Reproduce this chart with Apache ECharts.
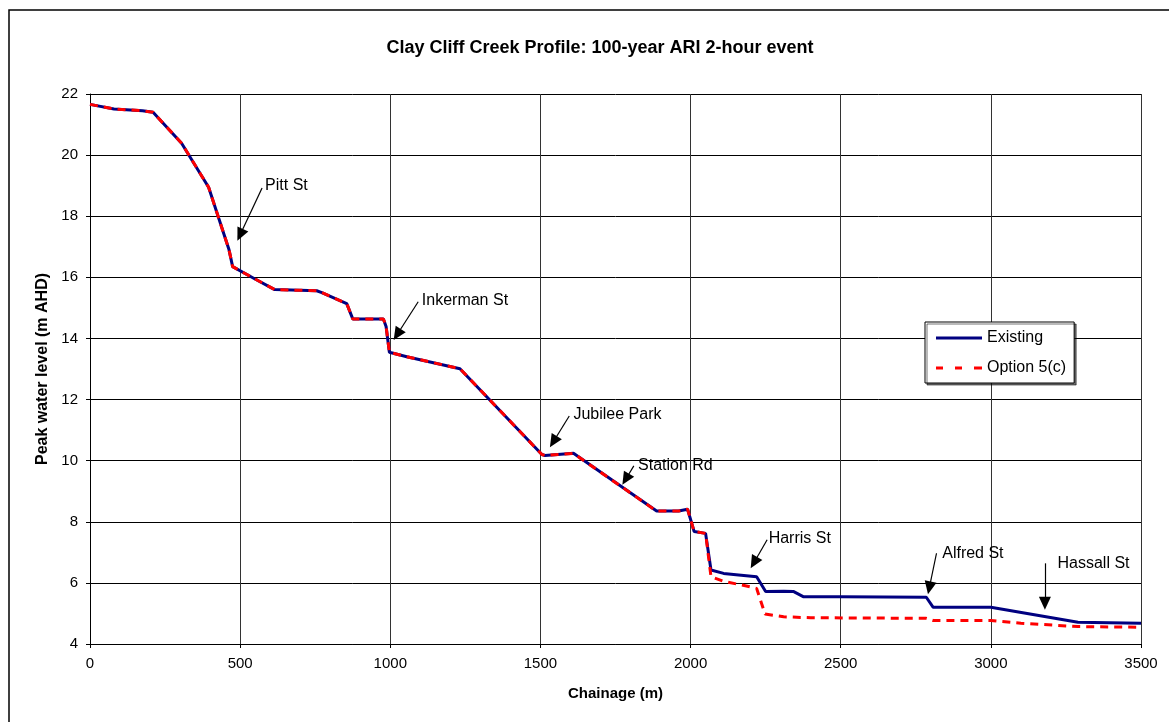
<!DOCTYPE html>
<html>
<head>
<meta charset="utf-8">
<script src="https://cdn.jsdelivr.net/npm/echarts@6/dist/echarts.min.js"></script>
<style>
  html, body { margin: 0; padding: 0; background: #fff; }
  #chart { width: 1169px; height: 722px; }
</style>
</head>
<body>
<div id="chart"></div>
<script>
// 现状方案 (Existing)
var existingChainage = [0, 80, 175, 210, 305, 395, 463, 475, 545, 615, 755, 772, 855, 875, 977, 986, 997, 1055, 1232, 1505, 1515, 1610, 1887, 1960, 1990, 2012, 2050, 2068, 2110, 2160, 2220, 2250, 2310, 2342, 2375, 2500, 2785, 2808, 3000, 3290, 3500];
var existingLevel = [21.66, 21.51, 21.45, 21.40, 20.39, 18.95, 16.9, 16.35, 15.97, 15.6, 15.56, 15.5, 15.14, 14.64, 14.64, 14.39, 13.55, 13.4, 13.01, 10.2, 10.17, 10.24, 8.35, 8.35, 8.41, 7.68, 7.62, 6.42, 6.31, 6.26, 6.2, 5.72, 5.73, 5.72, 5.55, 5.55, 5.53, 5.2, 5.2, 4.71, 4.68];

// Option 5(c)
var optionChainage = [0, 80, 175, 210, 305, 395, 463, 475, 545, 615, 755, 772, 855, 875, 977, 986, 997, 1055, 1232, 1505, 1515, 1610, 1887, 1960, 1990, 2012, 2050, 2068, 2110, 2175, 2220, 2248, 2310, 2400, 2785, 2808, 3000, 3100, 3290, 3500];
var optionLevel = [21.66, 21.51, 21.45, 21.40, 20.39, 18.95, 16.9, 16.35, 15.97, 15.6, 15.56, 15.5, 15.14, 14.64, 14.64, 14.39, 13.55, 13.4, 13.01, 10.2, 10.17, 10.24, 8.35, 8.35, 8.41, 7.68, 7.62, 6.2, 6.05, 5.92, 5.82, 4.98, 4.89, 4.86, 4.84, 4.77, 4.77, 4.68, 4.57, 4.55];

// 标注: 名称, 箭头起点/终点(chainage, level), 文字位置
var labelNames = ["Pitt St", "Inkerman St", "Jubilee Park", "Station Rd", "Harris St", "Alfred St", "Hassall St"];
var labelFrom = [[573, 18.92], [1093, 15.2], [1596, 11.46], [1811, 9.83], [2255, 7.41], [2819, 6.97], [3180, 6.64]];
var labelTo = [[500, 17.39], [1023, 14.13], [1543, 10.62], [1784, 9.39], [2211, 6.66], [2795, 5.84], [3180, 5.33]];
var textAt = [[583, 19.0], [1105, 15.25], [1610, 11.5], [1825, 9.85], [2260, 7.45], [2838, 6.95], [3222, 6.62]];

function pairs(xs, ys) {
  return xs.map(function (x, i) { return [x, ys[i]]; });
}

var chart = echarts.init(document.getElementById("chart"));
var font = "Liberation Sans, Arial, sans-serif";

chart.setOption({
  animation: false,
  backgroundColor: "#fff",
  textStyle: { fontFamily: font, color: "#000" },
  graphic: [{
    type: "rect",
    shape: { x: 9, y: 10, width: 1300, height: 900 },
    style: { fill: "none", stroke: "#000", lineWidth: 1.5 },
    silent: true
  }],
  title: {
    text: "Clay Cliff Creek Profile: 100-year ARI 2-hour event",
    left: 595,
    top: 34,
    textAlign: "center",
    textStyle: { fontFamily: font, fontSize: 18, fontWeight: "bold", color: "#000" }
  },
  grid: { left: 90, top: 94, right: 28, bottom: 78 },
  legend: {
    orient: "vertical",
    left: 925,
    top: 322,
    itemWidth: 46,
    itemHeight: 3,
    itemGap: 14,
    symbolKeepAspect: false,
    padding: [8, 8, 7, 11],
    backgroundColor: "#fff",
    borderColor: "#000",
    borderWidth: 1,
    borderRadius: 0,
    shadowColor: "rgba(0,0,0,0.55)",
    shadowOffsetX: 2,
    shadowOffsetY: 2,
    shadowBlur: 0,
    itemStyle: { borderWidth: 0 },
    lineStyle: { width: 0 },
    textStyle: { fontFamily: font, fontSize: 16, color: "#000" },
    data: [
      { name: "Existing", icon: "path://M0,0H46V3H0Z" },
      { name: "Option 5(c)", icon: "path://M0,0H7V3H0Z M19,0H26V3H19Z M38,0H46V3H38Z" }
    ]
  },
  xAxis: {
    type: "value",
    min: 0,
    max: 3500,
    interval: 500,
    name: "Chainage (m)",
    nameLocation: "middle",
    nameGap: 42,
    nameTextStyle: { fontFamily: font, fontSize: 15, fontWeight: "bold", color: "#000" },
    axisLine: { show: true, lineStyle: { color: "#000", width: 1 } },
    axisTick: { show: true, length: 4, lineStyle: { color: "#000" } },
    axisLabel: {
      fontFamily: font, fontSize: 15, color: "#000", margin: 12,
      formatter: function (v) { return String(v); }
    },
    splitLine: { show: true, lineStyle: { color: "#333", width: 1 } }
  },
  yAxis: {
    type: "value",
    min: 4,
    max: 22,
    interval: 2,
    name: "Peak water level (m AHD)",
    nameLocation: "middle",
    nameGap: 38,
    nameTextStyle: { fontFamily: font, fontSize: 16, fontWeight: "bold", color: "#000" },
    axisLine: { show: true, lineStyle: { color: "#000", width: 1 } },
    axisTick: { show: true, length: 4, lineStyle: { color: "#000" } },
    axisLabel: { fontFamily: font, fontSize: 15, color: "#000", margin: 12 },
    splitLine: { show: true, lineStyle: { color: "#000", width: 1 } }
  },
  series: [
    {
      name: "Existing",
      type: "line",
      symbol: "none",
      color: "#000080",
      lineStyle: { color: "#000080", width: 3 },
      data: pairs(existingChainage, existingLevel),
      z: 2,
      markLine: {
        silent: true,
        symbol: ["none", "triangle"],
        symbolSize: [12, 13],
        lineStyle: { color: "#000", width: 1.2, type: "solid" },
        label: { show: false },
        data: labelFrom.map(function (p, i) {
          return [{ coord: p }, { coord: labelTo[i] }];
        })
      }
    },
    {
      name: "Option 5(c)",
      type: "line",
      symbol: "none",
      color: "#ff0000",
      lineStyle: { color: "#ff0000", width: 3, type: [8, 6] },
      data: pairs(optionChainage, optionLevel),
      z: 3
    },
    {
      name: "labels",
      type: "scatter",
      symbolSize: 0,
      silent: true,
      itemStyle: { opacity: 1 },
      data: textAt.map(function (p, i) { return { name: labelNames[i], value: p }; }),
      label: {
        show: true,
        position: "right",
        distance: 0,
        formatter: "{b}",
        fontFamily: font,
        fontSize: 16,
        color: "#000"
      }
    }
  ]
});
</script>
</body>
</html>
